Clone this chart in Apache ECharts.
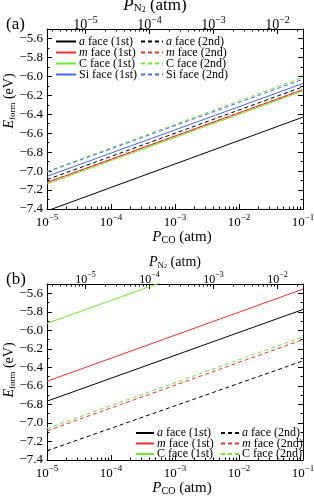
<!DOCTYPE html>
<html><head><meta charset="utf-8">
<script src="https://cdn.jsdelivr.net/npm/echarts@6/dist/echarts.min.js"></script>
<style>html,body{margin:0;padding:0;background:#fff}#c{width:314px;height:496px}</style>
</head><body><div id="c"></div>
<script>
// ---------- data ----------
const xRangeCO = [1e-5, 1e-1];          // P_CO axis range (atm)
const pressureCO = [1e-5, 1e-1];        // x values of the line end points (atm)
const xMajorExp = [-5, -4, -3, -2, -1]; // bottom tick labels: 10^n
const topMajorExp = [-5, -4, -3, -2];   // top tick labels: 10^n (P_N2)
const coPerN2 = 4;                      // P_N2 = P_CO / 4
const yRange = [-7.4, -5.5];
const yMajor = [-7.4, -7.2, -7.0, -6.8, -6.6, -6.4, -6.2, -6.0, -5.8, -5.6];
const yMinor = [-7.3, -7.1, -6.9, -6.7, -6.5, -6.3, -6.1, -5.9, -5.7];

// panel (a)
const a_aFace1st  = [-7.42, -6.43];
const a_mFace1st  = [-7.12, -6.14];
const a_cFace1st  = [-7.135, -6.155];
const a_siFace1st = [-7.055, -6.075];
const a_aFace2nd  = [-7.09, -6.11];
const a_mFace2nd  = [-7.12, -6.14];
const a_cFace2nd  = [-7.005, -6.01];
const a_siFace2nd = [-7.01, -6.03];

// panel (b)
const b_aFace1st = [-6.765, -5.775];
const b_mFace1st = [-6.55, -5.555];
const b_cFace1st = [-5.925, -4.935];
const b_aFace2nd = [-7.30, -6.33];
const b_mFace2nd = [-7.085, -6.10];
const b_cFace2nd = [-7.06, -6.07];

// ---------- chart ----------
const FONT = '"Liberation Serif", "DejaVu Serif", serif';
const BLACK = '#000000', RED = '#ff2a2a', GREEN = '#66ee22', BLUE = '#4466ff';
const DASH = [4, 3];
const L = Math.log10;

function logMinor(lo, hi) {
  const out = [];
  for (let n = Math.floor(lo) - 1; n <= Math.ceil(hi); n++)
    for (let k = 2; k <= 9; k++) {
      const v = n + L(k);
      if (v > lo + 1e-9 && v < hi - 1e-9) out.push(v);
    }
  return out;
}
const minus = s => String(s).replace('-', '\u2212');

const panels = [
  { top: 29, height: 180, topLbl: 14, topSup: 10, topMargin: -7, topName: 17, topNameSub: 11, topNameGap: 13,
    topNamePad: [0, 40, 0, 0], botNameGap: 19, yNamePad: [0, 0, 0, 36] },
  { top: 284, height: 176, topLbl: 12, topSup: 8, topMargin: -4, topName: 14, topNameSub: 9, topNameGap: 10,
    topNamePad: [0, 0, 0, 0], botNameGap: 20, yNamePad: [0, 0, 0, 4] }
];

const grid = [], xAxis = [], yAxis = [];
const lineOn = { show: true, onZero: false, lineStyle: { color: BLACK, width: 1 } };
const noLine = { show: false, onZero: false };

function expLabel(size, sup, values, margin) {
  return {
    show: true, margin, customValues: values,
    formatter: v => '{b|10}{s|' + minus(Math.round(v)) + '}',
    rich: {
      b: { fontFamily: FONT, fontSize: size, color: BLACK },
      s: { fontFamily: FONT, fontSize: sup, color: BLACK, padding: [0, 0, Math.round(sup * 1.1), 0] }
    }
  };
}

panels.forEach((p, g) => {
  grid.push({ left: 47, top: p.top, width: 256, height: p.height, outerBoundsMode: 'none', containLabel: false });
  const xMin = L(xRangeCO[0]), xMax = L(xRangeCO[1]);
  const tMin = L(xRangeCO[0] / coPerN2), tMax = L(xRangeCO[1] / coPerN2);
  // bottom major
  xAxis.push({
    type: 'value', gridIndex: g, position: 'bottom', min: xMin, max: xMax,
    axisLine: lineOn, splitLine: { show: false },
    axisTick: { show: true, inside: true, length: 5, customValues: xMajorExp, lineStyle: { color: BLACK } },
    axisLabel: expLabel(13, 9, xMajorExp, 4),
    name: '{i|P}{sub|CO} (atm)', nameLocation: 'middle', nameGap: p.botNameGap,
    nameTextStyle: {
      fontFamily: FONT, fontSize: 15, color: BLACK, padding: [0, 0, 0, 14],
      rich: {
        i: { fontFamily: FONT, fontSize: 15, fontStyle: 'italic', color: BLACK },
        sub: { fontFamily: FONT, fontSize: 10, color: BLACK, padding: [6, 0, 0, 0] }
      }
    }
  });
  // bottom minor
  xAxis.push({
    type: 'value', gridIndex: g, position: 'bottom', min: xMin, max: xMax,
    axisLine: noLine, splitLine: { show: false }, axisLabel: { show: false },
    axisTick: { show: true, inside: true, length: 2.5, customValues: logMinor(xMin, xMax), lineStyle: { color: BLACK } }
  });
  // top major (P_N2)
  xAxis.push({
    type: 'value', gridIndex: g, position: 'top', min: tMin, max: tMax,
    axisLine: lineOn, splitLine: { show: false },
    axisTick: { show: true, inside: true, length: 5, customValues: topMajorExp, lineStyle: { color: BLACK } },
    axisLabel: expLabel(p.topLbl, p.topSup, topMajorExp, p.topMargin),
    name: '{i|P}{sub|N}{sub2|2} (atm)', nameLocation: 'middle', nameGap: p.topNameGap,
    nameTextStyle: {
      fontFamily: FONT, fontSize: p.topName, color: BLACK, padding: p.topNamePad,
      rich: {
        i: { fontFamily: FONT, fontSize: p.topName, fontStyle: 'italic', color: BLACK },
        sub: { fontFamily: FONT, fontSize: p.topNameSub, color: BLACK, padding: [6, 0, 0, 0] },
        sub2: { fontFamily: FONT, fontSize: p.topNameSub - 3, color: BLACK, padding: [8, 0, 0, 0] }
      }
    }
  });
  // top minor
  xAxis.push({
    type: 'value', gridIndex: g, position: 'top', min: tMin, max: tMax,
    axisLine: noLine, splitLine: { show: false }, axisLabel: { show: false },
    axisTick: { show: true, inside: true, length: 2.5, customValues: logMinor(tMin, tMax), lineStyle: { color: BLACK } }
  });

  // left major
  yAxis.push({
    type: 'value', gridIndex: g, position: 'left', min: yRange[0], max: yRange[1],
    axisLine: lineOn, splitLine: { show: false },
    axisTick: { show: true, inside: true, length: 5, customValues: yMajor, lineStyle: { color: BLACK } },
    axisLabel: { show: true, margin: 4, customValues: yMajor, fontFamily: FONT, fontSize: 13, color: BLACK,
      formatter: v => minus(v.toFixed(1)) },
    name: '{i|E}{sub|form} (eV)', nameLocation: 'middle', nameGap: 30, nameMoveOverlap: false,
    nameTextStyle: {
      fontFamily: FONT, fontSize: 14, color: BLACK, padding: p.yNamePad,
      rich: {
        i: { fontFamily: FONT, fontSize: 14, fontStyle: 'italic', color: BLACK },
        sub: { fontFamily: FONT, fontSize: 9, color: BLACK, padding: [6, 0, 0, 0] }
      }
    }
  });
  // left minor
  yAxis.push({
    type: 'value', gridIndex: g, position: 'left', min: yRange[0], max: yRange[1],
    axisLine: noLine, splitLine: { show: false }, axisLabel: { show: false },
    axisTick: { show: true, inside: true, length: 2.5, customValues: yMinor, lineStyle: { color: BLACK } }
  });
  // right major
  yAxis.push({
    type: 'value', gridIndex: g, position: 'right', min: yRange[0], max: yRange[1],
    axisLine: lineOn, splitLine: { show: false }, axisLabel: { show: false },
    axisTick: { show: true, inside: true, length: 5, customValues: yMajor, lineStyle: { color: BLACK } }
  });
  // right minor
  yAxis.push({
    type: 'value', gridIndex: g, position: 'right', min: yRange[0], max: yRange[1],
    axisLine: noLine, splitLine: { show: false }, axisLabel: { show: false },
    axisTick: { show: true, inside: true, length: 2.5, customValues: yMinor, lineStyle: { color: BLACK } }
  });
});

function mk(name, g, vals, color, dashed) {
  return {
    type: 'line', name, xAxisIndex: 4 * g, yAxisIndex: 4 * g,
    data: pressureCO.map((p, i) => [L(p), vals[i]]),
    symbol: 'none', showSymbol: false, clip: true, animation: false, silent: true,
    itemStyle: { color },
    lineStyle: { color, width: 1, type: dashed ? DASH : 'solid' }
  };
}

const series = [
  mk('a face (1st)', 0, a_aFace1st, BLACK, false),
  mk('m face (1st)', 0, a_mFace1st, RED, false),
  mk('C face (1st)', 0, a_cFace1st, GREEN, false),
  mk('Si face (1st)', 0, a_siFace1st, BLUE, false),
  mk('a face (2nd)', 0, a_aFace2nd, BLACK, true),
  mk('m face (2nd)', 0, a_mFace2nd, RED, true),
  mk('C face (2nd)', 0, a_cFace2nd, GREEN, true),
  mk('Si face (2nd)', 0, a_siFace2nd, BLUE, true),
  mk('a face (1st)', 1, b_aFace1st, BLACK, false),
  mk('m face (1st)', 1, b_mFace1st, RED, false),
  mk('C face (1st)', 1, b_cFace1st, GREEN, false),
  mk('a face (2nd)', 1, b_aFace2nd, BLACK, true),
  mk('m face (2nd)', 1, b_mFace2nd, RED, true),
  mk('C face (2nd)', 1, b_cFace2nd, GREEN, true)
];

function legendFmt(name) {
  const sp = name.indexOf(' ');
  const first = name.slice(0, sp);
  if (first === 'a' || first === 'm') return '{it|' + first + '}' + name.slice(sp);
  return name;
}
function legend(names, left, top, itemWidth, lh, gap) {
  return {
    orient: 'vertical', left, top, itemWidth, itemHeight: 8, itemGap: gap, padding: 0,
    selectedMode: false, data: names, formatter: legendFmt,
    itemStyle: { opacity: 0 },
    textStyle: {
      fontFamily: FONT, fontSize: 12, color: BLACK, lineHeight: lh, padding: [0, 0, 0, -2],
      rich: { it: { fontFamily: FONT, fontSize: 12, fontStyle: 'italic', color: BLACK, lineHeight: lh } }
    }
  };
}

const option = {
  backgroundColor: '#ffffff',
  animation: false,
  title: [
    { text: '(a)', left: 6, top: 16, padding: 0, textStyle: { fontFamily: FONT, fontSize: 17, fontWeight: 'normal', color: BLACK } },
    { text: '(b)', left: 6, top: 271, padding: 0, textStyle: { fontFamily: FONT, fontSize: 17, fontWeight: 'normal', color: BLACK } }
  ],
  legend: [
    legend(['a face (1st)', 'm face (1st)', 'C face (1st)', 'Si face (1st)'], 55, 35.5, 20, 10.5, -1),
    legend(['a face (2nd)', 'm face (2nd)', 'C face (2nd)', 'Si face (2nd)'], 140, 35.5, 22, 10.5, -1),
    legend(['a face (1st)', 'm face (1st)', 'C face (1st)'], 135, 427, 18, 10, -1.5),
    legend(['a face (2nd)', 'm face (2nd)', 'C face (2nd)'], 220, 427, 18, 10, -1.5)
  ],
  grid, xAxis, yAxis, series
};

const chart = echarts.init(document.getElementById('c'), null, { renderer: 'canvas' });
chart.setOption(option);
</script>
</body></html>
